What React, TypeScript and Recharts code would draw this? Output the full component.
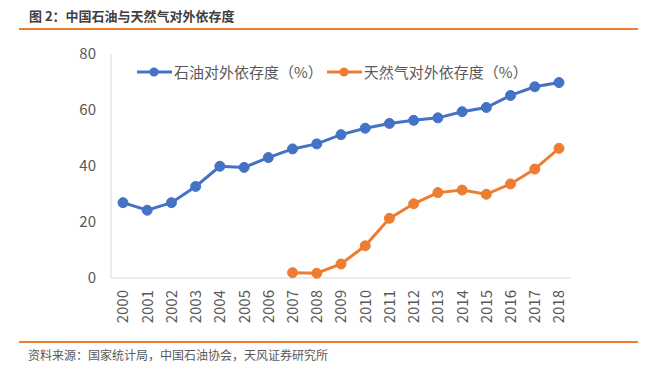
import React from 'react';
import { LineChart, Line, XAxis, YAxis, Legend } from 'recharts';

// 2000-2018 对外依存度 (%)
const years = [
  '2000', '2001', '2002', '2003', '2004', '2005', '2006', '2007', '2008', '2009',
  '2010', '2011', '2012', '2013', '2014', '2015', '2016', '2017', '2018',
];
const oilDependence = [
  26.9, 24.2, 26.9, 32.7, 39.9, 39.5, 43.0, 46.1, 47.9, 51.2,
  53.5, 55.2, 56.3, 57.2, 59.4, 60.9, 65.2, 68.3, 69.8,
];
const gasDependence: (number | null)[] = [
  null, null, null, null, null, null, null, 1.9, 1.7, 5.0,
  11.5, 21.3, 26.5, 30.5, 31.4, 29.9, 33.6, 38.9, 46.3,
];
const yTicks = [0, 20, 40, 60, 80];

const OIL = '#4472C4';
const GAS = '#ED7D31';
const FONT = '"Noto Sans CJK SC", "Noto Sans", sans-serif';

const data = years.map((year, i) => ({ year, oil: oilDependence[i], gas: gasDependence[i] }));

const legendItems = [
  { name: '石油对外依存度（%）', color: OIL },
  { name: '天然气对外依存度（%）', color: GAS },
];

function LegendContent() {
  return (
    <div style={{ display: 'flex', alignItems: 'center', fontFamily: FONT, fontSize: 15, color: '#595959', whiteSpace: 'nowrap' }}>
      {legendItems.map((it, i) => (
        <div key={it.name} style={{ display: 'flex', alignItems: 'center', marginRight: i === 0 ? 4 : 0 }}>
          <svg width={36} height={12} style={{ marginRight: 1 }}>
            <line x1={0} y1={6} x2={35} y2={6} stroke={it.color} strokeWidth={3} />
            <circle cx={17} cy={6} r={4.5} fill={it.color} />
          </svg>
          <span>{it.name}</span>
        </div>
      ))}
    </div>
  );
}

function YearTick(props: any) {
  const { x, y, payload } = props;
  return (
    <g transform={`translate(${x},${y})`}>
      <text transform="rotate(-90)" x={-4} y={0} dy="0.36em" textAnchor="end" fill="#595959" fontSize={15} fontFamily={FONT}>
        {payload.value}
      </text>
    </g>
  );
}

export default function App() {
  return (
    <div style={{ position: 'absolute', left: 0, top: 0, width: 657, height: 387, background: '#fff' }}>
      <div style={{ position: 'absolute', left: 29, top: 6, fontFamily: FONT, fontSize: 13, fontWeight: 700, color: '#3f3f3f' }}>
        图 2：中国石油与天然气对外依存度
      </div>
      <div style={{ position: 'absolute', left: 19, top: 28, width: 619, height: 2, background: GAS }} />
      <LineChart width={657} height={387} data={data} margin={{ top: 54, right: 86, bottom: 49, left: 81 }}>
        <XAxis
          dataKey="year"
          tick={<YearTick />}
          tickLine={false}
          axisLine={{ stroke: '#d9d9d9' }}
          interval={0}
          height={60}
          padding={{ left: 12, right: 12 }}
        />
        <YAxis
          domain={[0, 80]}
          ticks={yTicks}
          width={30}
          tickLine={false}
          axisLine={{ stroke: '#d9d9d9' }}
          tickMargin={9}
          tick={{ fill: '#595959', fontSize: 15, fontFamily: FONT }}
        />
        <Legend
          content={<LegendContent />}
          layout="horizontal"
          verticalAlign="middle"
          align="center"
          wrapperStyle={{ position: 'absolute', left: 137, top: 61, width: 'auto' }}
        />
        <Line dataKey="oil" stroke={OIL} strokeWidth={3} dot={{ r: 5, fill: OIL, stroke: OIL, strokeWidth: 1 }} isAnimationActive={false} />
        <Line dataKey="gas" stroke={GAS} strokeWidth={3} dot={{ r: 5, fill: GAS, stroke: GAS, strokeWidth: 1 }} isAnimationActive={false} />
      </LineChart>
      <div style={{ position: 'absolute', left: 19, top: 341, width: 619, height: 2, background: GAS }} />
      <div style={{ position: 'absolute', left: 28, top: 346, fontFamily: FONT, fontSize: 12, color: '#595959' }}>
        资料来源：国家统计局，中国石油协会，天风证券研究所
      </div>
    </div>
  );
}
